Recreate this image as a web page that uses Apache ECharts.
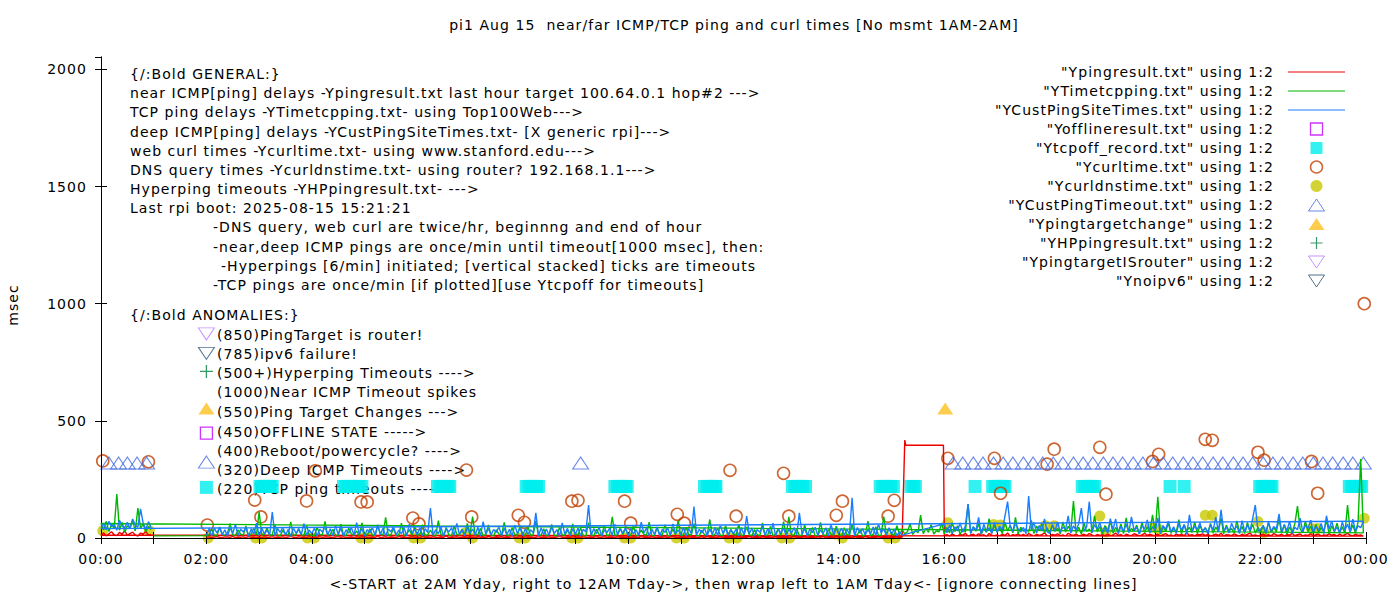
<!DOCTYPE html>
<html>
<head>
<meta charset="utf-8">
<script src="https://cdn.jsdelivr.net/npm/echarts@6/dist/echarts.min.js"></script>
<style>
  html, body { margin: 0; background: #fff; }
  #chart { width: 1400px; height: 600px; }
  /* gnuplot's hinted glyphs run wider than plain DejaVu; widen the SVG text to match */
  #chart text { letter-spacing: 1.05px; }
</style>
</head>
<body>
<div id="chart"></div>
<script>
// gnuplot-style ping/curl overview, redrawn with ECharts.
// x is minutes of day; data file order is 02:00..24:00 (yesterday) then 00:00..01:00 (today).

const FONT = '"DejaVu Sans", sans-serif';
const STEP = 3; // minutes between noise samples

// near ICMP (Ypingresult) — 02:00 .. 15:12
const nearA1 = [
  3,5,2,4,6,3,2,5,4,3,7,2,4,3,5,2,6,3,4,2,
  4,2,5,3,3,6,2,4,3,5,2,4,7,3,2,5,3,4,2,6,
  2,4,3,6,2,5,4,3,2,4,6,3,5,2,3,4,2,5,3,4,
  5,3,2,4,3,7,2,3,5,2,4,3,2,6,3,4,2,3,5,3,
  3,2,6,3,4,2,5,3,2,4,3,8,2,4,3,5,2,3,4,2,
  4,3,2,5,3,4,2,6,3,2,4,3,5,2,4,3,6,2,3,5,
  2,5,3,4,2,3,6,2,4,3,5,2,3,4,7,3,2,4,3,5,
  3,4,2,5,3,2,4,3,6,2,3,5,2,4,3,2,5,3,4,2,
  5,2,4,3,2,6,3,4,2,5,3,2,4,3,5,2,4,6,3,2,
  3,4,2,5,3,4,2,3,5,2,6,3,4,2,3,5,2,4,3,4,
  2,3,5,2,4,3,6,2,3,4,2,5,3,4,2,3,5,2,4,3,
  4,2,3,6,2,4,3,5,2,3,4,2,5,3,6,2,3,4,2,5,
  3,5,2,4,3,2,5,3,4,2,6,3,2,4,3,5,2,4,3,2,
  4,3,5,2,4
];
// reboot / powercycle plateau
const nearRebootTimes = ['15:15', '15:16', '15:59'];
const nearRebootValues = [418, 396, 396];
// 16:00 .. 23:57
const nearA2 = [
  10,14,8,17,11,9,15,12,20,8,13,16,9,18,11,14,7,19,12,10,
  13,9,16,11,21,8,14,12,17,10,15,9,19,13,8,16,11,14,22,10,
  9,15,12,18,10,13,8,20,14,11,17,9,12,16,10,19,13,8,15,11,
  14,10,17,9,13,21,11,15,8,16,12,10,18,14,9,13,20,11,16,12,
  11,16,9,14,19,10,13,8,17,12,15,10,22,11,14,9,16,13,18,10,
  15,9,12,17,11,20,8,14,13,10,18,12,9,16,11,15,21,10,13,9,
  12,17,10,14,9,19,13,11,16,8,15,12,20,10,14,17,9,13,11,18,
  10,14,16,9,13,11,18,12,15,8,17,10,14,20,12,9,16,11,13,8
];
// 00:00 .. 00:57 (today)
const nearB = [12,22,9,18,27,14,10,24,16,31,11,19,25,13,8,21,17,28,12,15];

// TCP ping (YTimetcpping) — one stray sample at 01:00, then 02:00 .. 23:57, then 00:00 .. 00:57
const tcpLeadTimes = ['01:00'];
const tcpLeadValues = [9];
const tcpA = [
  10,14,38,12,9,47,15,11,22,61,13,10,35,16,12,52,9,18,41,13,
  112,12,16,44,10,14,58,11,9,33,17,12,69,10,15,40,13,11,55,14,
  12,9,46,15,13,71,10,16,37,12,11,59,14,9,43,17,12,30,10,65,
  15,11,39,13,10,54,16,12,88,11,14,42,9,13,63,10,17,36,12,48,
  11,16,57,10,13,34,12,9,74,15,11,45,13,10,51,16,12,38,14,62,
  13,91,12,15,41,10,14,56,11,9,35,17,12,67,10,13,44,15,11,53,
  16,10,48,12,14,72,11,13,39,10,15,58,12,9,46,14,11,33,16,60,
  12,15,43,11,9,66,13,10,37,16,12,55,10,14,90,11,13,47,15,40,
  14,11,52,9,13,35,15,12,68,10,11,44,16,13,57,9,12,38,14,73,
  10,13,46,15,12,61,11,9,34,14,13,79,10,16,42,12,11,53,13,37,
  15,12,58,10,14,47,13,11,36,15,9,64,12,13,49,10,16,41,11,70,
  12,90,11,14,39,10,13,55,15,12,45,9,11,67,14,10,37,16,12,50,
  13,10,44,16,11,59,12,14,36,9,13,72,10,15,48,11,12,91,14,42,
  16,12,53,14,35,18,27,61,15,33,22,98,19,40,24,57,17,31,26,64,
  18,45,22,65,27,52,16,38,25,145,20,48,29,61,17,40,24,83,21,56,
  26,43,19,67,30,54,22,88,17,46,28,39,24,75,19,51,31,60,23,44,
  20,57,27,41,18,69,25,50,30,158,21,46,17,63,28,38,22,94,26,49,
  17,53,29,72,21,45,26,60,19,86,24,40,30,55,18,67,23,48,27,99,
  22,176,18,50,28,64,20,41,25,78,17,57,29,46,23,69,19,52,31,43,
  24,62,20,47,27,85,18,55,30,40,22,73,26,49,19,66,28,58,21,45,
  27,51,19,68,24,43,29,80,21,56,17,47,26,61,136,39,23,72,28,50,
  20,58,25,44,29,76,18,52,27,63,22,48,19,141,26,55,21,70,337,22
];
const tcpB = [62,35,71,28,58,40,188,33,66,25,52,45,74,30,128,41,60,27,49,36];

// deep ICMP (YCustPingSiteTimes) — 02:00 .. 15:12, gap, 16:00 .. 23:57, 00:00 .. 00:57
const deepA1 = [
  12,38,9,41,22,45,14,35,8,43,19,58,11,37,26,44,7,39,16,63,
  10,42,18,33,13,111,9,40,24,46,12,36,7,44,20,38,15,61,11,34,
  19,43,8,37,25,47,13,39,10,52,16,41,9,35,21,45,12,66,17,40,
  8,36,22,44,11,57,15,42,9,38,27,46,13,34,18,43,10,59,20,37,
  14,45,9,40,23,128,12,36,18,47,8,39,26,43,11,62,16,35,10,44,
  21,38,12,46,9,70,17,41,13,36,24,48,10,42,15,37,8,55,19,43,
  11,40,16,35,22,107,9,44,14,38,12,47,20,36,8,64,17,41,10,39,
  15,43,9,37,26,141,12,40,18,46,8,35,23,42,11,58,14,38,20,45,
  9,41,17,36,12,68,21,44,10,39,15,47,8,37,24,43,13,60,18,35,
  12,46,8,40,19,134,14,37,22,43,10,38,16,45,9,56,20,41,11,36,
  17,39,10,44,13,93,18,42,8,36,25,47,12,40,15,63,9,38,21,43,
  10,37,20,45,12,107,16,41,9,39,23,46,11,35,18,44,8,59,14,40,
  19,42,11,38,16,172,9,45,21,40,13,36,17,47,10,61,22,39,12,44,
  16,38,9,27,12
];
const deepA2 = [
  60,22,55,18,48,30,64,25,52,145,20,47,33,88,16,58,28,44,19,66,
  24,51,35,93,155,49,28,62,40,26,45,18,179,34,67,22,53,31,82,27,
  19,56,30,68,25,47,36,94,21,52,33,61,128,29,48,155,23,57,38,65,
  27,45,20,83,34,81,18,50,29,59,24,90,32,46,17,54,38,77,22,49,
  31,86,19,53,37,72,25,48,20,61,34,57,16,99,28,50,36,64,23,45,
  18,58,33,89,26,120,30,47,22,63,35,52,19,74,27,56,31,84,141,29,
  36,54,21,67,29,49,38,103,24,58,31,71,20,46,35,85,27,53,40,76,
  25,50,33,62,19,95,37,73,28,47,22,68,34,59,26,80,30,52,44,72
];
const deepB = [40,62,35,71,48,58,33,76,52,44,67,38,81,55,46,124,63,36,70,45];

// TCP ping timeouts (Ytcpoff_record), plotted at a fixed level
const TCPOFF_LEVEL = 220;
const tcpoffTimes = [
  '03:01','03:03','03:05','03:07','03:09','03:11','03:13','03:15',
  '04:36','04:39','04:42','04:45','04:48','04:51','04:54','04:57',
  '06:23','06:26','06:29','06:32','06:35','06:37',
  '08:04','08:07','08:10','08:13','08:16','08:18',
  '09:45','09:48','09:51','09:54','09:57','09:59',
  '11:27','11:30','11:33','11:36','11:39','11:40',
  '13:07','13:10','13:13','13:16','13:19','13:22',
  '14:47','14:50','14:53','14:56','14:59','15:02',
  '15:22','15:25','15:27',
  '16:35',
  '16:55','16:58','17:01','17:04','17:07','17:09',
  '18:37','18:40','18:43','18:46','18:49','18:51',
  '20:17',
  '20:33',
  '21:59','22:02','22:05','22:08','22:11','22:13',
  '23:41','23:44','23:47','23:50','23:53','23:55'
];

// web curl times
const curlTimes = [
  '00:02','00:54','02:01','02:55','03:02','03:54','04:04','04:56','05:03','05:55',
  '06:02','06:56','07:02','07:55','08:02','08:56','09:03','09:56','10:03','10:56',
  '11:04','11:56','12:03','12:57','13:03','13:57','14:04','14:56','15:03','16:04',
  '16:57','17:04','17:57','18:05','18:57','19:04','19:57','20:04','20:57','21:05',
  '21:57','22:04','22:58','23:05','23:58'
];
const curlValues = [
  329,325,55,162,90,158,287,154,154,85,
  60,290,90,97,67,157,161,157,63,101,
  63,289,93,276,93,97,157,93,161,340,
  340,191,315,379,387,187,327,357,421,417,
  366,332,327,191,1000
];

// DNS query times
const dnsTimes = [
  '00:02','00:55','02:02','02:56','03:03','03:55','04:03','04:56','05:04','05:56',
  '06:04','06:56','07:03','07:56','08:03','08:56','09:03','09:56','10:03','10:55',
  '11:04','11:55','12:04','12:55','13:04','13:56','14:04','14:56','15:04','16:04',
  '16:56','17:04','17:55','18:05','18:57','19:04','19:56','20:04','20:57','21:05',
  '21:57','22:04','22:58','23:05','23:58'
];
const dnsValues = [
  31,31,0,0,0,0,0,0,0,0,
  0,25,0,0,0,0,0,0,0,0,
  0,0,0,0,0,17,0,0,0,65,
  58,55,52,52,94,26,45,35,97,97,
  70,23,41,41,84
];

// deep ICMP timeouts (YCustPingTimeout), plotted at a fixed level
const DEEP_TIMEOUT_LEVEL = 320;
const deepTimeoutTimes = [
  '00:09','00:20','00:30','00:41','00:52','09:06',
  '16:10','16:21','16:33','16:44','16:56','17:07','17:18','17:30','17:41','17:52',
  '18:04','18:15','18:27','18:38','18:49','19:01','19:12','19:23','19:35','19:46',
  '19:58','20:09','20:20','20:32','20:43','20:54','21:06','21:17','21:29','21:40',
  '21:51','22:03','22:14','22:25','22:37','22:48','23:00','23:11','23:22','23:34',
  '23:45','23:57'
];

// ping target changes
const targetChangeTimes = ['16:01'];
const targetChangeValues = [553];

// key marks drawn beside the ANOMALIES notes (all at the 02:00 column)
const keyTimes = ['02:00','02:00','02:00','02:00','02:00','02:00','02:00'];
const keyValues = [871, 788, 711, 553, 448, 324, 216];

// series names as gnuplot printed them
const NAMES = [
  '"Ypingresult.txt" using 1:2',
  '"YTimetcpping.txt" using 1:2',
  '"YCustPingSiteTimes.txt" using 1:2',
  '"Yofflineresult.txt" using 1:2',
  '"Ytcpoff_record.txt" using 1:2',
  '"Ycurltime.txt" using 1:2',
  '"Ycurldnstime.txt" using 1:2',
  '"YCustPingTimeout.txt" using 1:2',
  '"Ypingtargetchange" using 1:2',
  '"YHPpingresult.txt" using 1:2',
  '"YpingtargetISrouter" using 1:2',
  '"Ynoipv6" using 1:2'
];

const COL = {
  near: '#ee0000', tcp: '#00b800', deep: '#1a7cff',
  offline: '#c000ff', tcpoff: '#00eeee', curl: '#c04000', dns: '#c8c800',
  deepTimeout: '#4169e1', target: '#ffc020', hp: '#008040',
  router: '#b57cff', ipv6: '#27506e'
};

// path symbols keep their aspect inside the legend box
const PLUS = 'path://M5.4,0 L6.6,0 L6.6,5.4 L12,5.4 L12,6.6 L6.6,6.6 L6.6,12 L5.4,12 L5.4,6.6 L0,6.6 L0,5.4 L5.4,5.4 Z';
const DOWN = 'path://M0,0 L16,0 L8,12 Z';
const UP = 'path://M8,0 L16,12 L0,12 Z';
const SQUARE = 'path://M0,0 L12,0 L12,12 L0,12 Z';
const DASH = 'path://M0,0 L57,0 L57,1.2 L0,1.2 Z';

const hm = s => { const p = s.split(':'); return +p[0] * 60 + +p[1]; };
const seg = (start, vals) => vals.map((v, i) => [hm(start) + STEP * i, v]);
const pts = (times, vals) => times.map((t, i) => [hm(t), vals[i]]);
const level = (times, v) => times.map(t => [hm(t), v]);
const pad = n => String(n).padStart(2, '0');
const clock = v => pad(Math.floor(v / 60) % 24) + ':' + pad(v % 60);

const chart = echarts.init(document.getElementById('chart'), null, { renderer: 'svg' });

const AXIS_LINE = { show: true, lineStyle: { color: '#000', width: 1 } };
const TICK = { show: true, inside: true, length: 6, lineStyle: { color: '#000' } };
const MINOR = { show: true, splitNumber: 2, length: 6, lineStyle: { color: '#000' } };
const LABEL = { color: '#000', fontSize: 14, fontFamily: FONT };

const xBase = { type: 'value', min: 0, max: 1440, interval: 120, splitLine: { show: false },
  axisLine: AXIS_LINE, axisTick: TICK, minorTick: MINOR, z: 3 };
const yBase = { type: 'value', min: 0, max: 2053, interval: 500, splitLine: { show: false },
  axisLine: AXIS_LINE, axisTick: TICK, z: 3 };

const noteLines = [
  [130, 74, '{/:Bold GENERAL:}'],
  [130, 93, 'near ICMP[ping] delays -Ypingresult.txt last hour target 100.64.0.1 hop#2 --->'],
  [130, 112, 'TCP ping delays -YTimetcpping.txt- using Top100Web--->'],
  [130, 131.5, 'deep ICMP[ping] delays -YCustPingSiteTimes.txt- [X generic rpi]--->'],
  [130, 150.5, 'web curl times -Ycurltime.txt- using www.stanford.edu--->'],
  [130, 169.5, 'DNS query times -Ycurldnstime.txt- using router? 192.168.1.1--->'],
  [130, 189, 'Hyperping timeouts -YHPpingresult.txt- --->'],
  [130, 208, 'Last rpi boot: 2025-08-15 15:21:21'],
  [213, 227, '-DNS query, web curl are twice/hr, beginnng and end of hour'],
  [213, 246.5, '-near,deep ICMP pings are once/min until timeout[1000 msec], then:'],
  [221, 265.5, '-Hyperpings [6/min] initiated; [vertical stacked] ticks are timeouts'],
  [213, 284.5, '-TCP pings are once/min [if plotted][use Ytcpoff for timeouts]'],
  [130, 315, '{/:Bold ANOMALIES:}'],
  [217, 335, '(850)PingTarget is router!'],
  [217, 354, '(785)ipv6 failure!'],
  [217, 373, '(500+)Hyperping Timeouts ---->'],
  [217, 392, '(1000)Near ICMP Timeout spikes'],
  [217, 412, '(550)Ping Target Changes --->'],
  [217, 431.5, '(450)OFFLINE STATE ----->'],
  [217, 450.5, '(400)Reboot/powercycle? ---->'],
  [217, 470, '(320)Deep ICMP Timeouts ---->'],
  [217, 489, '(220)TCP ping timeouts ---->']
];

const textEl = (x, y, text, extra) => ({
  type: 'text', x, y, silent: true,
  style: Object.assign({ text, font: '14px ' + FONT, fill: '#000', verticalAlign: 'middle' }, extra || {})
});

const hollow = (c, w) => ({ color: 'rgba(255,255,255,0)', borderColor: c, borderWidth: w });

const keyStyles = [
  { symbol: DOWN, symbolSize: [16, 12], itemStyle: hollow(COL.router, 1) },
  { symbol: DOWN, symbolSize: [16, 12], itemStyle: hollow(COL.ipv6, 1) },
  { symbol: PLUS, symbolSize: 13, itemStyle: { color: COL.hp } },
  { symbol: 'triangle', symbolSize: [16, 12], itemStyle: { color: COL.target } },
  { symbol: 'rect', symbolSize: 12, itemStyle: hollow(COL.offline, 1.3) },
  { symbol: 'triangle', symbolSize: [16, 12], itemStyle: hollow(COL.deepTimeout, 1) },
  { symbol: 'rect', symbolSize: 13, itemStyle: { color: COL.tcpoff } }
];

const lineSeries = (name, color, data) => ({
  name, type: 'line', data, symbol: 'none', showSymbol: false,
  lineStyle: { color, width: 1.4 }, itemStyle: { color }, animation: false
});
const dotSeries = (name, data, symbol, size, itemStyle) => ({
  name, type: 'scatter', data, symbol, symbolSize: size, itemStyle, clip: false, animation: false
});

chart.setOption({
  animation: false,
  textStyle: { fontFamily: FONT },
  grid: { left: 101, right: 34, top: 57, bottom: 62 },
  xAxis: [
    Object.assign({}, xBase, {
      position: 'bottom',
      axisLabel: Object.assign({}, LABEL, { margin: 14, formatter: clock }),
      name: '<-START at 2AM Yday, right to 12AM Tday->, then wrap left to 1AM Tday<- [ignore connecting lines]',
      nameLocation: 'middle', nameGap: 39,
      nameTextStyle: { color: '#000', fontSize: 14, fontFamily: FONT }
    }),
    Object.assign({}, xBase, { position: 'top', axisLabel: { show: false } })
  ],
  yAxis: [
    Object.assign({}, yBase, {
      position: 'left',
      axisLabel: Object.assign({}, LABEL, { margin: 14, showMaxLabel: false,
        formatter: v => (v % 500 === 0 ? String(v) : '') })
    }),
    Object.assign({}, yBase, { position: 'right', axisLabel: { show: false } })
  ],
  legend: {
    data: [
      { name: NAMES[0], icon: DASH, itemStyle: { color: COL.near } },
      { name: NAMES[1], icon: DASH, itemStyle: { color: COL.tcp } },
      { name: NAMES[2], icon: DASH, itemStyle: { color: COL.deep } },
      { name: NAMES[3], icon: SQUARE, itemStyle: hollow(COL.offline, 1.3) },
      { name: NAMES[4], icon: SQUARE, itemStyle: { color: COL.tcpoff } },
      { name: NAMES[5], icon: 'circle', itemStyle: hollow(COL.curl, 1.5) },
      { name: NAMES[6], icon: 'circle', itemStyle: { color: COL.dns } },
      { name: NAMES[7], icon: UP, itemStyle: hollow(COL.deepTimeout, 1) },
      { name: NAMES[8], icon: UP, itemStyle: { color: COL.target } },
      { name: NAMES[9], icon: PLUS, itemStyle: { color: COL.hp } },
      { name: NAMES[10], icon: DOWN, itemStyle: hollow(COL.router, 1) },
      { name: NAMES[11], icon: DOWN, itemStyle: hollow(COL.ipv6, 1) }
    ],
    orient: 'vertical', align: 'right', right: 55, top: 65, padding: 0,
    itemWidth: 57, itemHeight: 12, itemGap: 5, selectedMode: false,
    textStyle: { color: '#000', fontSize: 14, fontFamily: FONT, lineHeight: 14, padding: [0, 9, 0, 0] }
  },
  graphic: {
    elements: [
      textEl(734, 25, 'pi1 Aug 15  near/far ICMP/TCP ping and curl times [No msmt 1AM-2AM]', { align: 'center' }),
      Object.assign(textEl(13, 305, 'msec', { align: 'center' }), { rotation: Math.PI / 2 })
    ].concat(noteLines.map(n => textEl(n[0], n[1], n[2])))
  },
  series: [
    lineSeries(NAMES[0], COL.near,
      seg('02:00', nearA1).concat(pts(nearRebootTimes, nearRebootValues), seg('16:00', nearA2), seg('00:00', nearB))),
    lineSeries(NAMES[1], COL.tcp,
      pts(tcpLeadTimes, tcpLeadValues).concat(seg('02:00', tcpA), seg('00:00', tcpB))),
    lineSeries(NAMES[2], COL.deep,
      seg('02:00', deepA1).concat(seg('16:00', deepA2), seg('00:00', deepB))),
    dotSeries(NAMES[3], [], 'rect', 12, hollow(COL.offline, 1.3)),
    dotSeries(NAMES[4], level(tcpoffTimes, TCPOFF_LEVEL), 'rect', 13, { color: COL.tcpoff }),
    dotSeries(NAMES[5], pts(curlTimes, curlValues), 'circle', 12, hollow(COL.curl, 1.6)),
    dotSeries(NAMES[6], pts(dnsTimes, dnsValues), 'circle', 11, { color: COL.dns }),
    dotSeries(NAMES[7], level(deepTimeoutTimes, DEEP_TIMEOUT_LEVEL), 'triangle', [16, 12], hollow(COL.deepTimeout, 1)),
    dotSeries(NAMES[8], pts(targetChangeTimes, targetChangeValues), 'triangle', [16, 12], { color: COL.target }),
    dotSeries(NAMES[9], [], PLUS, 13, { color: COL.hp }),
    dotSeries(NAMES[10], [], DOWN, [16, 12], hollow(COL.router, 1)),
    dotSeries(NAMES[11], [], DOWN, [16, 12], hollow(COL.ipv6, 1)),
    {
      name: 'key', type: 'scatter', clip: false, animation: false,
      data: pts(keyTimes, keyValues).map((v, i) => Object.assign({ value: v }, keyStyles[i]))
    }
  ]
});
</script>
</body>
</html>
